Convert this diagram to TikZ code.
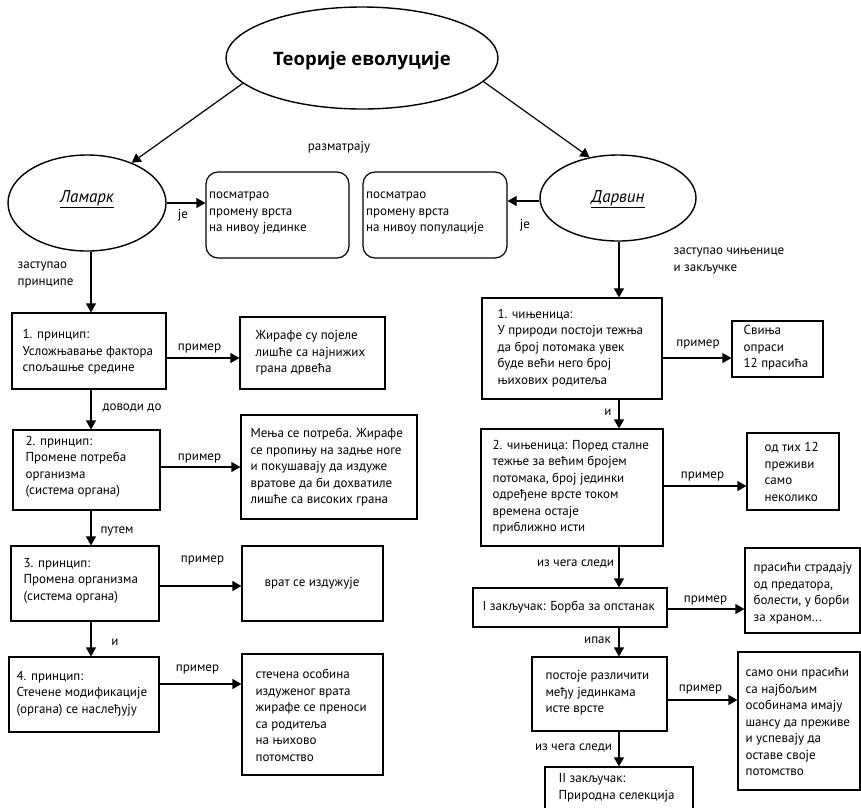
\documentclass[tikz,border=0pt]{standalone}
\usepackage{fontspec}
\setmainfont{PT Sans}
\newfontfamily\titlefont{Open Sans}
\usetikzlibrary{shapes.geometric,arrows.meta,calc}
\begin{document}
\begin{tikzpicture}[x=1pt,y=-1pt,line width=1.2pt,
  every node/.style={font=\fontsize{13}{16.5}\selectfont},
  box/.style={draw,rectangle,inner sep=0pt},
  rbox/.style={draw,rectangle,rounded corners=12pt,inner sep=0pt},
  ell/.style={draw,ellipse,inner sep=0pt,line width=1.4pt},
  txt/.style={inner sep=0pt,anchor=west,align=left},
  lbl/.style={inner sep=0pt},
  arr/.style={-{Triangle[length=9pt,width=10pt]}}
]
\clip (0,0) rectangle (861,807);
\coordinate (xL) at (91,0);
\coordinate (xR) at (619,0);
% ellipses
\node[ell,minimum width=272pt,minimum height=102pt,font=\titlefont\fontsize{18.5}{20}\selectfont\bfseries,text height=14pt,text depth=0pt] (top) at (362,58) {Теорије еволуције};
\node[ell,minimum width=158pt,minimum height=96pt,font=\fontsize{17}{20}\selectfont\itshape,text height=8pt,text depth=10pt] (lam) at (87,203) {\underline{Ламарк}};
\node[ell,minimum width=156pt,minimum height=86pt,font=\fontsize{17}{20}\selectfont\itshape,text height=12pt,text depth=4pt] (dar) at (618,198) {\underline{Дарвин}};
% rounded boxes
\node[rbox,minimum width=143pt,minimum height=86pt] (r1) at (277.5,215) {};
\node[txt] (r1t) at (208.5,213.5) {посматрао\\промену врста\\на нивоу јединке};
\node[rbox,minimum width=144pt,minimum height=86pt] (r2) at (435,215) {};
\node[txt] (r2t) at (365.5,213.5) {посматрао\\промену врста\\на нивоу популације};
% left column
\node[box,minimum width=154pt,minimum height=76pt] (L1) at (89,351) {};
\node[txt] (L1t) at (22,352) {1. принцип:\\Усложњавање фактора\\спољашње средине};
\node[box,minimum width=145pt,minimum height=72pt] (E1) at (312.5,353) {};
\node[txt] (E1t) at (255,353) {Жирафе су појеле\\лишће са најнижих\\грана дрвећа};
\node[box,minimum width=147pt,minimum height=80pt] (L2) at (86.5,470) {};
\node[txt] (L2t) at (25,467) {2. принцип:\\Промене потреба\\организма\\(система органа)};
\node[box,minimum width=176pt,minimum height=104pt] (E2) at (329,467) {};
\node[txt] (E2t) at (250,467.5) {Мења се потреба. Жирафе\\се пропињу на задње ноге\\и покушавају да издуже\\вратове да би дохватиле\\лишће са високих грана};
\node[box,minimum width=148pt,minimum height=75pt] (L3) at (85,583.5) {};
\node[txt] (L3t) at (23,580.5) {3. принцип:\\Промена организма\\(система органа)};
\node[box,minimum width=141pt,minimum height=75pt] (E3) at (312.5,583.5) {};
\node[lbl] (E3t) at (312,583) {врат се издужује};
\node[box,minimum width=150pt,minimum height=75pt] (L4) at (84,694.5) {};
\node[txt] (L4t) at (16,693.5) {4. принцип:\\Стечене модификације\\(органа) се наслеђују};
\node[box,minimum width=141pt,minimum height=121pt] (E4) at (312.5,714.5) {};
\node[txt] (E4t) at (255,715.5) {стечена особина\\издуженог врата\\жирафе се преноси\\са родитеља\\на њихово\\потомство};
% right column
\node[box,minimum width=180pt,minimum height=101pt] (R1) at (572,348.5) {};
\node[txt] (R1t) at (497,348) {1. чињеница:\\У природи постоји тежња\\да број потомака увек\\буде већи него број\\њихових родитеља};
\node[box,minimum width=91pt,minimum height=56pt] (E5) at (777.5,349) {};
\node[txt] (E5t) at (743,348) {Свиња\\опраси\\12 прасића};
\node[box,minimum width=182pt,minimum height=117pt] (R2) at (572,487.5) {};
\node[txt] (R2t) at (492,487) {2. чињеница: Поред сталне\\тежње за већим бројем\\потомака, број јединки\\одређене врсте током\\времена остаје\\приближно исти};
\node[box,minimum width=92pt,minimum height=77pt] (E6) at (793,471.5) {};
\node[txt] (E6t) at (764,472) {од тих 12\\преживи\\само\\неколико};
\node[box,minimum width=194pt,minimum height=39pt] (C1) at (570,607.5) {};
\node[txt] (C1t) at (482,607) {I закључак: Борба за опстанак};
\node[box,minimum width=115pt,minimum height=85pt] (E7) at (802.5,590.5) {};
\node[txt] (E7t) at (753,593) {прасићи страдају\\од предатора,\\болести, у борби\\за храном...};
\node[box,minimum width=135pt,minimum height=74pt] (V) at (599.5,694) {};
\node[txt] (Vt) at (545,693) {постоје различити\\међу јединкама\\исте врсте};
\node[box,minimum width=122pt,minimum height=138pt] (E8) at (799,721) {};
\node[txt] (E8t) at (745,722) {само они прасићи\\са најбољим\\особинама имају\\шансу да преживе\\и успевају да\\оставе своје\\потомство};
\node[box,minimum width=148pt,minimum height=50pt] (C2) at (619,792) {};
\node[txt] (C2t) at (558,788) {II закључак:\\Природна селекција};
% connectors
\draw[arr] (top.192) -- (lam.42);
\draw[arr] (top.349) -- (dar.125);
\draw[arr] (lam.east) -- (lam.east -| r1.west);
\draw[arr] ([yshift=-3pt]dar.west) -- ([yshift=-3pt]dar.west -| r2.east);
\draw[arr] (lam.south -| xL) -- (L1.north -| xL);
\draw[arr] (dar.south -| xR) -- (R1.north -| xR);
\draw[arr] (L1.south -| xL) -- (L2.north -| xL);
\draw[arr] (L2.south -| xL) -- (L3.north -| xL);
\draw[arr] (L3.south -| xL) -- (L4.north -| xL);
\draw[arr] (R1.south -| xR) -- (R2.north -| xR);
\draw[arr] (R2.south -| xR) -- (C1.north -| xR);
\draw[arr] (C1.south -| xR) -- (V.north -| xR);
\draw[arr] (V.south -| xR) -- (C2.north -| xR);
\draw[arr] ([yshift=-7pt]L1.east) -- ([yshift=-7pt]L1.east -| E1.west);
\draw[arr] ([yshift=3pt]L2.east) -- ([yshift=3pt]L2.east -| E2.west);
\draw[arr] ([yshift=-2.5pt]L3.east) -- ([yshift=-2.5pt]L3.east -| E3.west);
\draw[arr] ([yshift=10.5pt]L4.east) -- ([yshift=10.5pt]L4.east -| E4.west);
\draw[arr] ([yshift=-9.5pt]R1.east) -- ([yshift=-9.5pt]R1.east -| E5.west);
\draw[arr] ([yshift=1.5pt]R2.east) -- ([yshift=1.5pt]R2.east -| E6.west);
\draw[arr] ([yshift=-1.5pt]C1.east) -- ([yshift=-1.5pt]C1.east -| E7.west);
\draw[arr] ([yshift=-6pt]V.east) -- ([yshift=-6pt]V.east -| E8.west);
% labels
\node[lbl] (lb0) at (339,147) {разматрају};
\node[lbl] (je1) at (183,215) {je};
\node[lbl] (je2) at (525,225) {je};
\node[lbl,anchor=west,align=left] (zp) at (17,275) {заступао\\принципе};
\node[lbl,anchor=west,align=left] (zc) at (673,261) {заступао чињенице\\и закључке};
\node[lbl] (dd) at (132,408) {доводи до};
\node[lbl] (pt) at (117,531) {путем};
\node[lbl] (iL) at (115,642) {и};
\node[lbl] (p1) at (199.5,348) {пример};
\node[lbl] (p2) at (199.5,458) {пример};
\node[lbl] (p3) at (202.5,560) {пример};
\node[lbl] (p4) at (197.5,669) {пример};
\node[lbl] (p5) at (698,344) {пример};
\node[lbl] (p6) at (702.5,476) {пример};
\node[lbl] (p7) at (705.5,600) {пример};
\node[lbl] (p8) at (700.5,689) {пример};
\node[lbl] (iR) at (608,412) {и};
\node[lbl] (s1) at (575.5,564) {из чега следи};
\node[lbl] (ip) at (597.5,640) {ипак};
\node[lbl] (s2) at (573.5,748) {из чега следи};
\end{tikzpicture}
\end{document}
